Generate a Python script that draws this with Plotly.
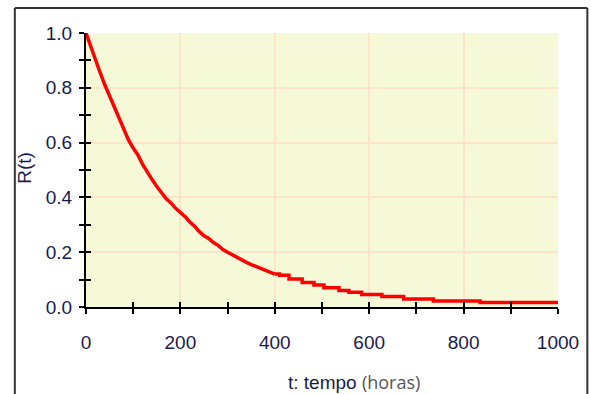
import plotly.graph_objects as go

t_upper = [0, 10, 20, 30, 40, 50, 60, 70, 80, 90, 100, 110, 120, 130, 140, 150,
           160, 170, 180, 190, 200, 210, 220, 230, 240, 250, 260, 270, 280, 290,
           300, 310, 320, 330, 340, 350, 360, 370, 380, 390, 400]
r_upper = [1.0, 0.95, 0.90, 0.855, 0.81, 0.77, 0.725, 0.69, 0.65, 0.61, 0.58,
           0.555, 0.52, 0.49, 0.465, 0.44, 0.415, 0.395, 0.38, 0.36, 0.345, 0.33,
           0.31, 0.295, 0.275, 0.26, 0.25, 0.235, 0.225, 0.21, 0.20, 0.19, 0.18,
           0.17, 0.163, 0.155, 0.148, 0.142, 0.135, 0.128, 0.12]
t_tail = [400, 410, 430, 458, 483, 504, 536, 557, 584, 627, 673, 736, 835, 1000]
r_tail = [0.12, 0.116, 0.102, 0.089, 0.080, 0.070, 0.060, 0.054, 0.046, 0.038,
          0.029, 0.022, 0.016, 0.016]

x_ticks = [0, 200, 400, 600, 800, 1000]
y_ticks = [0.0, 0.2, 0.4, 0.6, 0.8, 1.0]
y_tick_text = ["0.0", "0.2", "0.4", "0.6", "0.8", "1.0"]

NAVY = "#1a1a4a"
GRID = "#fde3c8"
FONT = "Liberation Sans, Arial, sans-serif"
FS = 19

fig = go.Figure()
fig.add_trace(go.Scatter(x=t_upper, y=r_upper, mode="lines",
                         line=dict(color="#ff0000", width=3.5), hoverinfo="skip"))
fig.add_trace(go.Scatter(x=t_tail, y=r_tail, mode="lines", line_shape="hv",
                         line=dict(color="#ff0000", width=3.5), hoverinfo="skip"))
# empty trace to carry the inward half of the crossing ticks
fig.add_trace(go.Scatter(x=[None], y=[None], xaxis="x2", yaxis="y2",
                         showlegend=False, hoverinfo="skip"))

fig.update_layout(
    width=591, height=394,
    margin=dict(l=86, r=31, t=33, b=87),
    paper_bgcolor="white",
    plot_bgcolor="#f5f9d8",
    showlegend=False,
    font=dict(family=FONT, color=NAVY, size=FS),
    xaxis=dict(range=[0, 1000], tickvals=x_ticks, ticktext=[str(v) for v in x_ticks],
               showgrid=True, gridcolor=GRID, gridwidth=2,
               showline=True, linecolor="black", linewidth=2,
               ticks="outside", ticklen=5, tickwidth=2, tickcolor="black",
               minor=dict(dtick=100, tick0=0, ticks="outside", ticklen=5,
                          tickwidth=2, tickcolor="black", showgrid=False),
               ticklabelstandoff=12, zeroline=False, fixedrange=True,
               tickfont=dict(family=FONT, color=NAVY, size=FS)),
    yaxis=dict(range=[0, 1.0], tickvals=y_ticks, ticktext=y_tick_text,
               showgrid=True, gridcolor=GRID, gridwidth=2,
               showline=True, linecolor="black", linewidth=2,
               ticks="outside", ticklen=5, tickwidth=2, tickcolor="black",
               minor=dict(dtick=0.1, tick0=0, ticks="outside", ticklen=5,
                          tickwidth=2, tickcolor="black", showgrid=False),
               ticklabelstandoff=3, zeroline=False, fixedrange=True,
               tickfont=dict(family=FONT, color=NAVY, size=FS)),
    xaxis2=dict(range=[0, 1000], overlaying="x", anchor="y2", side="bottom",
                dtick=100, tick0=0, ticks="inside", ticklen=5, tickwidth=2,
                tickcolor="black", showticklabels=False, showgrid=False,
                showline=False, zeroline=False),
    yaxis2=dict(range=[0, 1.0], overlaying="y", anchor="x2", side="left",
                dtick=0.1, tick0=0, ticks="inside", ticklen=5, tickwidth=2,
                tickcolor="black", showticklabels=False, showgrid=False,
                showline=False, zeroline=False),
)

# outer frame of the figure box
frame = dict(color="#333333", width=2)
fig.add_shape(type="line", xref="paper", yref="paper", x0=-0.1508, x1=-0.1508,
              y0=1.0912, y1=-0.35, line=frame)
fig.add_shape(type="line", xref="paper", yref="paper", x0=1.0622, x1=1.0622,
              y0=1.0912, y1=-0.35, line=frame)
fig.add_shape(type="line", xref="paper", yref="paper", x0=-0.1508, x1=1.0622,
              y0=1.0912, y1=1.0912, line=frame)

fig.add_annotation(xref="paper", yref="paper", x=0.568, y=-0.274,
                   text="t: tempo <span style='color:#555555;font-family:Open Sans;font-size:18px'>(horas)</span>",
                   showarrow=False, font=dict(family=FONT, color=NAVY, size=FS),
                   xanchor="center", yanchor="middle")
fig.add_annotation(xref="paper", yref="paper", x=-0.132, y=0.507, text="R(t)",
                   textangle=-90, showarrow=False,
                   font=dict(family=FONT, color=NAVY, size=FS),
                   xanchor="center", yanchor="middle")

fig.write_html("out.html")
